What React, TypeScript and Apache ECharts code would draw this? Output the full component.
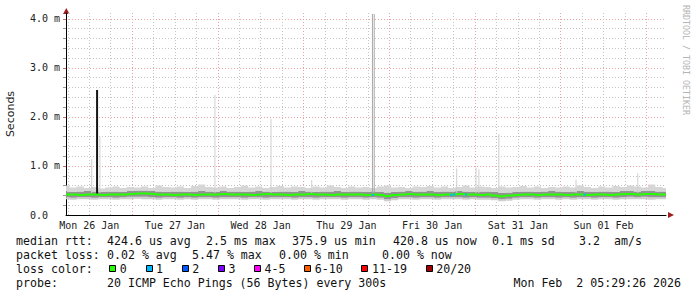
import React, { useEffect, useRef } from 'react';
import * as echarts from 'echarts';

// ---- data (time in hours since Mon 26 Jan 2026 05:29:26, values in ms) ----
const HOURS = 168;
const STEP_HOURS = 2;
const FIRST_MIDNIGHT = 18.5094; // Tue 27 Jan 00:00, hours after start

const smokeLow = [
  0.32, 0.31, 0.32, 0.32, 0.31, 0.32, 0.32, 0.31, 0.32, 0.32,
  0.33, 0.32, 0.32, 0.31, 0.32, 0.32, 0.31, 0.32, 0.31, 0.32,
  0.32, 0.31, 0.32, 0.32, 0.32, 0.31, 0.32, 0.32, 0.31, 0.32,
  0.32, 0.32, 0.31, 0.32, 0.32, 0.31, 0.32, 0.32, 0.32, 0.31,
  0.32, 0.32, 0.31, 0.32, 0.31, 0.28, 0.30, 0.32, 0.32, 0.31,
  0.32, 0.32, 0.31, 0.32, 0.32, 0.32, 0.31, 0.32, 0.31, 0.31,
  0.30, 0.28, 0.29, 0.31, 0.32, 0.32, 0.31, 0.32, 0.32, 0.31,
  0.32, 0.31, 0.32, 0.32, 0.31, 0.32, 0.32, 0.31, 0.32, 0.32,
  0.32, 0.32, 0.31, 0.32, 0.32,
];
const smokeLowInner = [
  0.36, 0.35, 0.36, 0.36, 0.35, 0.36, 0.36, 0.35, 0.36, 0.37,
  0.37, 0.37, 0.36, 0.35, 0.36, 0.36, 0.35, 0.36, 0.35, 0.36,
  0.36, 0.35, 0.36, 0.36, 0.36, 0.35, 0.36, 0.36, 0.35, 0.36,
  0.36, 0.36, 0.35, 0.36, 0.36, 0.35, 0.36, 0.36, 0.36, 0.35,
  0.36, 0.36, 0.35, 0.36, 0.35, 0.32, 0.34, 0.36, 0.36, 0.35,
  0.36, 0.36, 0.35, 0.36, 0.36, 0.36, 0.35, 0.36, 0.35, 0.35,
  0.34, 0.32, 0.33, 0.35, 0.36, 0.36, 0.35, 0.36, 0.36, 0.35,
  0.36, 0.35, 0.36, 0.36, 0.35, 0.36, 0.36, 0.35, 0.36, 0.37,
  0.36, 0.37, 0.36, 0.36, 0.36,
];
const smokeHighInner = [
  0.48, 0.47, 0.48, 0.49, 0.48, 0.47, 0.48, 0.48, 0.47, 0.49,
  0.50, 0.50, 0.49, 0.48, 0.47, 0.48, 0.48, 0.47, 0.48, 0.49,
  0.48, 0.47, 0.49, 0.48, 0.48, 0.47, 0.48, 0.49, 0.48, 0.47,
  0.48, 0.48, 0.47, 0.49, 0.48, 0.47, 0.48, 0.48, 0.49, 0.47,
  0.48, 0.48, 0.47, 0.48, 0.47, 0.46, 0.47, 0.48, 0.49, 0.48,
  0.48, 0.49, 0.47, 0.48, 0.48, 0.49, 0.48, 0.47, 0.48, 0.48,
  0.47, 0.45, 0.46, 0.47, 0.48, 0.48, 0.47, 0.48, 0.49, 0.48,
  0.47, 0.48, 0.49, 0.48, 0.47, 0.48, 0.48, 0.47, 0.49, 0.49,
  0.48, 0.49, 0.49, 0.48, 0.48,
];
const smokeHigh = [
  0.60, 0.56, 0.58, 0.55, 0.57, 0.54, 0.56, 0.58, 0.55, 0.57,
  0.56, 0.58, 0.55, 0.60, 0.57, 0.56, 0.58, 0.55, 0.59, 0.62,
  0.57, 0.56, 0.58, 0.55, 0.57, 0.60, 0.56, 0.58, 0.55, 0.57,
  0.59, 0.56, 0.58, 0.57, 0.55, 0.58, 0.56, 0.60, 0.57, 0.55,
  0.58, 0.56, 0.57, 0.55, 0.58, 0.60, 0.56, 0.57, 0.55, 0.58,
  0.57, 0.59, 0.56, 0.58, 0.55, 0.57, 0.60, 0.56, 0.58, 0.57,
  0.55, 0.58, 0.56, 0.57, 0.59, 0.56, 0.58, 0.55, 0.57, 0.56,
  0.58, 0.56, 0.60, 0.57, 0.55, 0.58, 0.56, 0.59, 0.57, 0.60,
  0.58, 0.56, 0.62, 0.57, 0.55,
];
const medianRtt = [
  0.42, 0.42, 0.41, 0.42, 0.42, 0.41, 0.42, 0.42, 0.42, 0.43,
  0.44, 0.44, 0.43, 0.42, 0.42, 0.41, 0.42, 0.42, 0.41, 0.42,
  0.42, 0.42, 0.43, 0.42, 0.42, 0.42, 0.41, 0.42, 0.43, 0.42,
  0.42, 0.41, 0.42, 0.42, 0.43, 0.42, 0.42, 0.41, 0.42, 0.42,
  0.42, 0.42, 0.41, 0.42, 0.41, 0.39, 0.41, 0.42, 0.43, 0.42,
  0.42, 0.42, 0.41, 0.42, 0.42, 0.43, 0.42, 0.42, 0.41, 0.42,
  0.40, 0.38, 0.40, 0.41, 0.42, 0.42, 0.41, 0.42, 0.42, 0.42,
  0.41, 0.42, 0.42, 0.41, 0.42, 0.42, 0.41, 0.42, 0.43, 0.43,
  0.42, 0.43, 0.43, 0.42, 0.42,
];

const spikeHours = [7.2, 9.5, 41.7, 57.4, 68.8, 109.4, 114.8, 115.6, 121.2, 142.8, 160.1];
const spikePeaks = [1.14, 1.59, 2.45, 1.96, 0.71, 0.95, 0.97, 0.93, 1.65, 0.72, 0.85];
const bigSpikeHours = [85.8, 86.3];
const bigSpikePeaks = [4.1, 4.1];
const medianSpikeHours = [8.7];
const medianSpikePeaks = [2.55];
const lossOneHours = [85.6, 107.6, 108.4, 111.7, 144.9];
const lossOneValues = [0.41, 0.41, 0.42, 0.42, 0.42];

const dayLabels = ['Mon 26 Jan', 'Tue 27 Jan', 'Wed 28 Jan', 'Thu 29 Jan', 'Fri 30 Jan', 'Sat 31 Jan', 'Sun 01 Feb'];
const yTickValues = [0, 1, 2, 3, 4];
const yTickLabels = ['0.0', '1.0 m', '2.0 m', '3.0 m', '4.0 m'];

const lossLevels = ['0', '1', '2', '3', '4-5', '6-10', '11-19', '20/20'];
const lossColors = ['#26ff00', '#00b8ff', '#0059ff', '#7e00ff', '#ff00ff', '#ff5e00', '#ff0000', '#a10000'];

const rttRow = [
  ['median rtt:', 16], ['424.6 us avg', 107], ['2.5 ms max', 206], ['375.9 us min', 292],
  ['420.8 us now', 393], ['0.1 ms sd', 492], ['3.2', 579], ['am/s', 614],
] as [string, number][];
const lossRow = [
  ['packet loss:', 16], ['0.02 % avg', 107], ['5.47 % max', 192], ['0.00 % min', 279], ['0.00 % now', 382],
] as [string, number][];
const probeRow = [
  ['probe:', 16], ['20 ICMP Echo Pings (56 Bytes) every 300s', 107],
] as [string, number][];
const stampText = 'Mon Feb  2 05:29:26 2026';
const watermark = 'RRDTOOL / TOBI OETIKER';
const yName = 'Seconds';

// ---- option ----
const MONO = '"DejaVu Sans Mono", monospace';
const nb = (s: string) => s.replace(/ /g, '\u00a0');

const smokeBands = [
  { lower: smokeLow, upper: smokeLowInner, color: '#cfcfcf' },
  { lower: smokeLowInner, upper: smokeHighInner, color: '#939393' },
  { lower: smokeHighInner, upper: smokeHigh, color: '#d6d6d6' },
];

function buildOption() {
  const xs = smokeLow.map((_, k) => k * STEP_HOURS);
  const pair = (arr: number[]) => arr.map((v, k) => [xs[k], v]);

  const minorX: number[] = [];
  for (let k = 0; ; k++) {
    const t = FIRST_MIDNIGHT - 18 + 6 * k;
    if (t > HOURS) break;
    if (k % 4 !== 3) minorX.push(t);
  }
  const majorX: number[] = [];
  const noonX: number[] = [];
  for (let j = 0; j < dayLabels.length; j++) {
    majorX.push(FIRST_MIDNIGHT + 24 * j);
    noonX.push(FIRST_MIDNIGHT - 12 + 24 * j);
  }
  const minorY: number[] = [];
  for (let i = 1; i <= 20; i++) if (i % 5 !== 0) minorY.push(+(i * 0.2).toFixed(1));

  const segs = (hours: number[], peaks: number[], base: number) => {
    const d: any[] = [];
    hours.forEach((h, i) => {
      d.push([h, base], [h, peaks[i]], [h, '-']);
    });
    return d;
  };
  const lossSegs: any[] = [];
  lossOneHours.forEach((h, i) => {
    lossSegs.push([h, lossOneValues[i]], [h + 0.6, lossOneValues[i]], [h, '-']);
  });

  const minorLine = { color: '#c4c4c4', width: 1, type: [1, 2] };
  const majorLine = { color: '#e9a3a3', width: 1, type: [1, 2] };

  // smoke bands as stepped polygons, positioned through the axes' scales
  const renderSmoke = (params: any, api: any) => {
    const b = smokeBands[params.dataIndex];
    const half = STEP_HOURS / 2;
    const top: number[][] = [];
    const bottom: number[][] = [];
    xs.forEach((x, k) => {
      const x0 = Math.max(0, x - half);
      const x1 = Math.min(HOURS, x + half);
      top.push(api.coord([x0, b.upper[k]]), api.coord([x1, b.upper[k]]));
      bottom.push(api.coord([x0, b.lower[k]]), api.coord([x1, b.lower[k]]));
    });
    const points = top.concat(bottom.reverse());
    return {
      type: 'polygon',
      shape: { points },
      style: { fill: b.color, stroke: null },
      silent: true,
    };
  };

  const boxes: any[] = [];
  let bx = 109.3;
  lossLevels.forEach((lv, i) => {
    boxes.push({
      type: 'rect',
      shape: { x: Math.round(bx) + 0.5, y: 265.5, width: 6, height: 6 },
      style: { fill: lossColors[i], stroke: '#000', lineWidth: 1 },
    });
    boxes.push({
      type: 'text',
      x: bx + 10.5,
      y: 268.5,
      style: { text: nb(lv), font: `11.6px ${MONO}`, fill: '#111', verticalAlign: 'middle' },
    });
    bx = bx + 10.5 + lv.length * 7 + 18.7;
  });

  const rowTexts = (row: [string, number][], y: number) =>
    row.map(([t, x]) => ({
      type: 'text',
      x,
      y,
      style: { text: nb(t), font: `11.6px ${MONO}`, fill: '#111', verticalAlign: 'middle' },
    }));

  const xBase = { type: 'value', min: 0, max: HOURS, position: 'bottom', gridIndex: 0 };
  const yBase = { type: 'value', min: 0, max: 4.12, position: 'left', gridIndex: 0 };

  return {
    animation: false,
    backgroundColor: '#fff',
    grid: { left: 66, top: 13, width: 600, height: 202, containLabel: false, outerBoundsMode: 'none' },
    xAxis: [
      {
        ...xBase,
        axisLine: { show: true, lineStyle: { color: '#000', width: 1 } },
        axisTick: { show: false, customValues: minorX },
        axisLabel: { show: false },
        splitLine: { show: true, lineStyle: minorLine },
      },
      {
        ...xBase,
        axisLine: { show: false },
        axisTick: { show: false, customValues: majorX },
        axisLabel: { show: false },
        splitLine: { show: true, lineStyle: majorLine },
      },
      {
        ...xBase,
        axisLine: { show: false },
        axisTick: { show: false },
        splitLine: { show: false },
        axisLabel: {
          show: true,
          customValues: noonX,
          margin: 5,
          fontFamily: MONO,
          fontSize: 10,
          color: '#222',
          hideOverlap: false,
          formatter: (v: number) => dayLabels[Math.round((v - noonX[0]) / 24)] ?? '',
        },
      },
    ],
    yAxis: [
      {
        ...yBase,
        axisLine: { show: true, lineStyle: { color: '#000', width: 1 } },
        axisTick: { show: true, length: 3, customValues: minorY, lineStyle: { color: '#999' } },
        axisLabel: {
          show: true,
          customValues: yTickValues,
          align: 'right',
          margin: 6,
          fontFamily: MONO,
          fontSize: 10,
          color: '#222',
          formatter: (v: number) => {
            const s = yTickLabels[yTickValues.indexOf(Math.round(v))] ?? '';
            return s + '\u00a0'.repeat(Math.max(0, 5 - s.length));
          },
        },
        splitLine: { show: true, lineStyle: minorLine },
      },
      {
        ...yBase,
        axisLine: { show: false },
        axisTick: { show: true, length: 3, customValues: yTickValues.slice(1), lineStyle: { color: '#d46a6a' } },
        axisLabel: { show: false },
        splitLine: { show: true, lineStyle: majorLine },
      },
    ],
    series: [
      {
        name: 'spikes', type: 'line', symbol: 'none', silent: true, z: 2,
        data: segs(spikeHours, spikePeaks, 0.45),
        lineStyle: { color: '#cfcfcf', width: 1 },
      },
      {
        name: 'bigspikes', type: 'line', symbol: 'none', silent: true, z: 2,
        data: segs(bigSpikeHours, bigSpikePeaks, 0.45),
        lineStyle: { color: '#a8a8a8', width: 1 },
      },
      {
        name: 'smoke', type: 'custom', silent: true, z: 2,
        renderItem: renderSmoke,
        data: smokeBands.map(() => [0, 0]),
        clip: true,
      },
      {
        name: 'medianSpike', type: 'line', symbol: 'none', silent: true, z: 3,
        data: segs(medianSpikeHours, medianSpikePeaks, 0.42),
        lineStyle: { color: '#151515', width: 2 },
      },
      {
        name: 'median', type: 'line', step: 'middle', symbol: 'none', silent: true, z: 4,
        data: pair(medianRtt),
        lineStyle: { color: lossColors[0], width: 2 },
      },
      {
        name: 'loss1', type: 'line', symbol: 'none', silent: true, z: 5,
        data: lossSegs,
        lineStyle: { color: lossColors[1], width: 2 },
      },
    ],
    graphic: [
      { type: 'polygon', shape: { points: [[63, 14], [69.5, 14], [66.3, 8]] }, style: { fill: '#9e1f1f' } },
      { type: 'polygon', shape: { points: [[668, 212], [668, 218], [674, 215]] }, style: { fill: '#9e1f1f' } },
      {
        type: 'text', x: 10, y: 114, rotation: Math.PI / 2,
        style: { text: yName, font: '11px "DejaVu Sans", sans-serif', fill: '#222', align: 'center', verticalAlign: 'middle' },
      },
      {
        type: 'text', x: 686, y: 60, rotation: -Math.PI / 2,
        style: { text: nb(watermark), font: `8.3px ${MONO}`, fill: '#b4b4b4', align: 'center', verticalAlign: 'middle' },
      },
      ...rowTexts(rttRow, 240.5),
      ...rowTexts(lossRow, 254.5),
      { type: 'text', x: 16, y: 268.5, style: { text: nb('loss color:'), font: `11.6px ${MONO}`, fill: '#111', verticalAlign: 'middle' } },
      ...boxes,
      ...rowTexts(probeRow, 282.5),
      {
        type: 'text', x: 681, y: 282.5,
        style: { text: nb(stampText), font: `11.6px ${MONO}`, fill: '#111', align: 'right', verticalAlign: 'middle' },
      },
    ],
  };
}

export default function App() {
  const ref = useRef<HTMLDivElement>(null);
  useEffect(() => {
    if (!ref.current) return;
    const chart = echarts.init(ref.current, null, { renderer: 'svg' });
    chart.setOption(buildOption() as any);
    return () => chart.dispose();
  }, []);
  return (
    <div
      ref={ref}
      style={{ position: 'fixed', left: 0, top: 0, width: 697, height: 297, background: '#fff' }}
    />
  );
}
